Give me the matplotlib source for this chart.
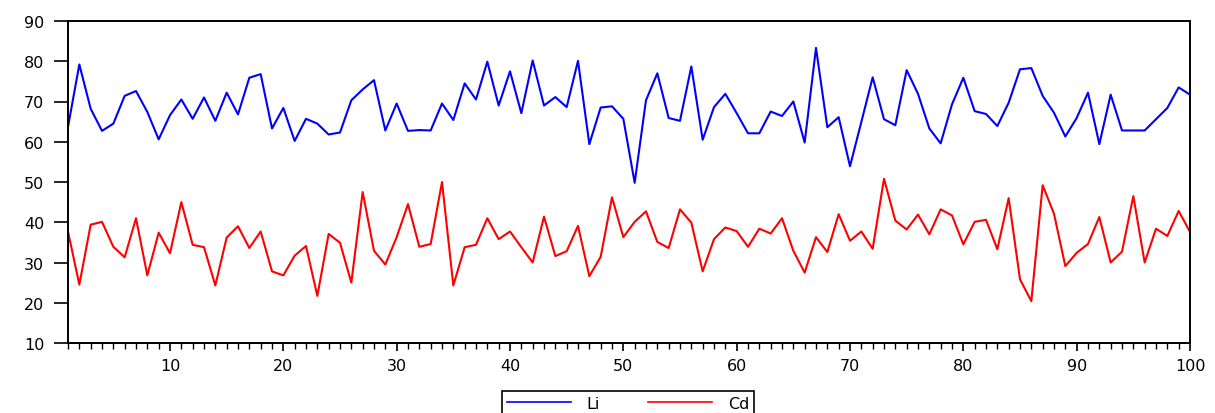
import numpy as np
import matplotlib.pyplot as plt
from matplotlib.ticker import MultipleLocator

plt.rcParams["font.family"] = ["DejaVu Sans"]

obs = np.arange(1, 101)

li = [63.7, 79.2, 68.2, 62.7, 64.5, 71.4, 72.6, 67.4, 60.6, 66.6,
      70.5, 65.7, 71.0, 65.2, 72.2, 66.8, 75.9, 76.8, 63.3, 68.4,
      60.2, 65.7, 64.5, 61.8, 62.3, 70.3, 73.0, 75.3, 62.8, 69.5,
      62.7, 62.9, 62.8, 69.5, 65.4, 74.5, 70.5, 79.9, 69.0, 77.5,
      67.1, 80.2, 69.0, 71.1, 68.6, 80.1, 59.4, 68.5, 68.8, 65.7,
      49.8, 70.3, 77.0, 65.9, 65.2, 78.7, 60.5, 68.6, 71.9, 67.1,
      62.1, 62.1, 67.5, 66.4, 70.0, 59.8, 83.3, 63.6, 66.1, 53.9,
      64.9, 76.0, 65.6, 64.1, 77.8, 71.9, 63.3, 59.6, 69.3, 75.9,
      67.6, 66.9, 63.9, 69.7, 78.0, 78.3, 71.4, 67.2, 61.3, 65.9,
      72.2, 59.4, 71.7, 62.8, 62.8, 62.8, 65.6, 68.4, 73.5, 71.7]

cd = [37.7, 24.5, 39.4, 40.1, 33.9, 31.3, 41.0, 26.8, 37.4, 32.3,
      45.0, 34.4, 33.8, 24.3, 36.2, 39.0, 33.6, 37.7, 27.8, 26.8,
      31.7, 34.1, 21.7, 37.1, 34.9, 25.0, 47.5, 32.9, 29.5, 36.3,
      44.5, 33.9, 34.6, 50.0, 24.3, 33.8, 34.4, 41.0, 35.8, 37.7,
      33.8, 30.0, 41.4, 31.6, 32.8, 39.1, 26.6, 31.4, 46.2, 36.3,
      40.1, 42.7, 35.1, 33.6, 43.2, 39.9, 27.8, 35.8, 38.7, 37.8,
      33.9, 38.4, 37.2, 41.0, 32.9, 27.5, 36.3, 32.6, 42.0, 35.4,
      37.7, 33.4, 50.8, 40.4, 38.2, 41.9, 37.0, 43.2, 41.7, 34.5,
      40.1, 40.6, 33.3, 46.0, 25.8, 20.4, 49.2, 42.1, 29.1, 32.4,
      34.6, 41.3, 30.0, 32.7, 46.5, 30.0, 38.4, 36.6, 42.8, 37.6]

fig = plt.figure(figsize=(12.15, 4.14), dpi=100)
ax = fig.add_axes([68 / 1215, 1 - 344 / 414, (1190 - 68) / 1215, (344 - 22) / 414])

ax.plot(obs, li, color="#0000ff", lw=1.5, label="Li")
ax.plot(obs, cd, color="#ff0000", lw=1.5, label="Cd")

ax.set_xlim(1, 100)
ax.set_ylim(10, 90)
ax.yaxis.set_major_locator(MultipleLocator(10))
ax.xaxis.set_major_locator(MultipleLocator(10))
ax.xaxis.set_minor_locator(MultipleLocator(1))

for s in ax.spines.values():
    s.set_linewidth(1.4)

ax.tick_params(axis="y", which="major", direction="out", length=10, width=1.2,
               labelsize=11.5, pad=7)
ax.tick_params(axis="x", which="major", direction="out", length=6, width=1.2,
               labelsize=11.5, pad=5)
ax.tick_params(axis="x", which="minor", direction="out", length=4, width=1.0)

leg = fig.legend(loc="upper center", bbox_to_anchor=(628 / 1215, 1 - 392 / 414),
                 borderaxespad=0, ncol=2, fontsize=11.5, handlelength=4.0,
                 handletextpad=1.0, columnspacing=3.0, borderpad=0.3,
                 fancybox=False, edgecolor="black", framealpha=1)
leg.get_frame().set_linewidth(1.2)
for h in leg.get_lines():
    h.set_linewidth(1.2)

fig.savefig("out.png", dpi=100)
